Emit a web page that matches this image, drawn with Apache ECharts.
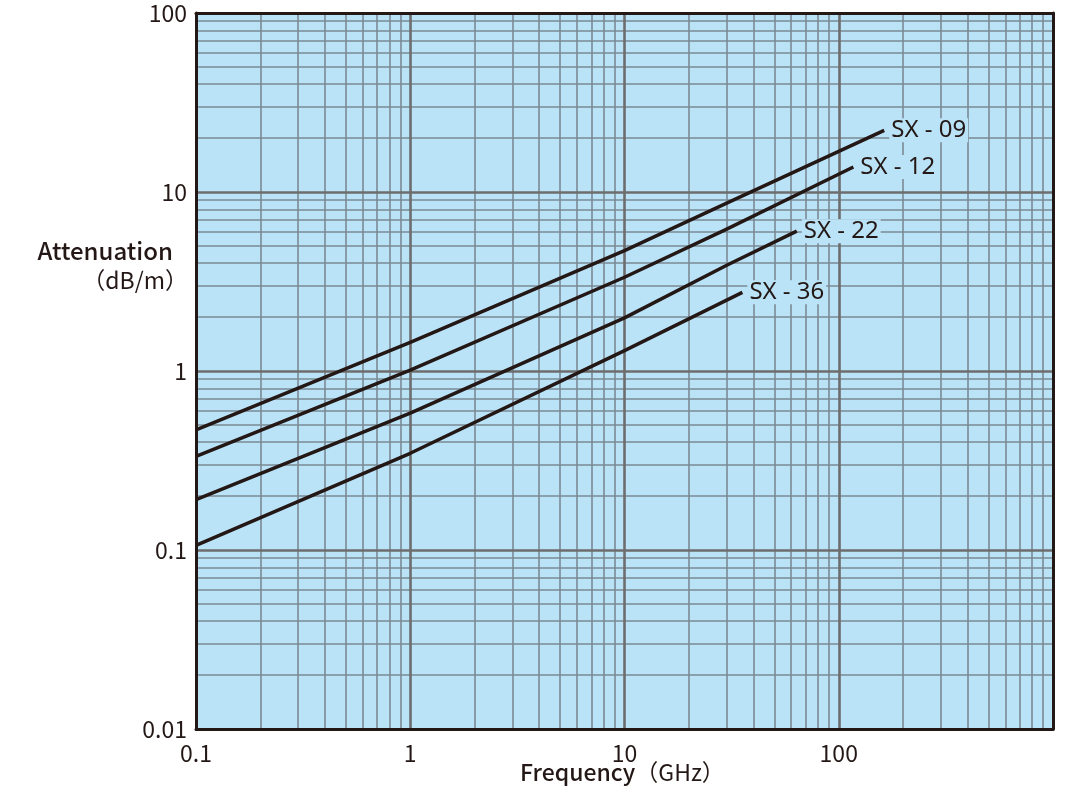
<!DOCTYPE html>
<html>
<head>
<meta charset="utf-8">
<script src="https://cdn.jsdelivr.net/npm/echarts@6/dist/echarts.min.js"></script>
<style>
html,body{margin:0;padding:0;background:#fff;}
#chart{width:1080px;height:800px;}
</style>
</head>
<body>
<div id="chart"></div>
<script>
// ---- data ----
const seriesNames = ['SX - 09', 'SX - 12', 'SX - 22', 'SX - 36'];
const sx09Freq = [0.1, 1, 10, 30, 163];
const sx09Att  = [0.469, 1.446, 4.70, 8.66, 22.1];
const sx12Freq = [0.1, 1, 10, 30, 117];
const sx12Att  = [0.333, 1.01, 3.34, 6.20, 13.8];
const sx22Freq = [0.1, 1, 10, 30, 63.7];
const sx22Att  = [0.191, 0.581, 1.98, 3.90, 6.04];
const sx36Freq = [0.1, 1, 10, 35.5];
const sx36Att  = [0.106, 0.347, 1.30, 2.75];
const xTickLabels = ['0.1', '1', '10', '100'];
const yTickLabels = ['0.01', '0.1', '1', '10', '100'];
const xDecades = [0.1, 1, 10, 100];
const yDecades = [0.01, 0.1, 1, 10];
const minorSteps = [2, 3, 4, 5, 6, 7, 8, 9];

const TEXT = '#231815';
const FONT = '"Noto Sans CJK JP", "Noto Sans", sans-serif';
const LFONT = '"Noto Sans", "Noto Sans CJK JP", sans-serif';
const BG = '#bbe3f7';

function pairs(xs, ys) { return xs.map((x, i) => [x, ys[i]]); }
const allFreq = [sx09Freq, sx12Freq, sx22Freq, sx36Freq];
const allAtt = [sx09Att, sx12Att, sx22Att, sx36Att];

const xMinor = [];
xDecades.forEach(d => minorSteps.forEach(k => xMinor.push({ xAxis: d * k })));
const yMinor = [];
yDecades.forEach(d => minorSteps.forEach(k => yMinor.push({ yAxis: d * k })));

function fmtLabel(list) {
  return function (v) {
    const s = String(+v.toPrecision(6));
    return list.indexOf(s) >= 0 ? s : '';
  };
}

const chart = echarts.init(document.getElementById('chart'), null, { renderer: 'canvas' });

const dataSeries = seriesNames.map((name, i) => ({
  name: name,
  type: 'line',
  z: 10,
  data: pairs(allFreq[i], allAtt[i]),
  showSymbol: false,
  symbol: 'none',
  lineStyle: { color: TEXT, width: 3.5, join: 'round' },
  endLabel: {
    show: true,
    formatter: '{a}',
    color: TEXT,
    fontSize: 24,
    fontFamily: LFONT,
    backgroundColor: BG,
    padding: [0, 2, 0, 2],
    distance: 5
  },
  animation: false
}));

const option = {
  animation: false,
  grid: {
    left: 196, right: 27, top: 13, bottom: 71,
    show: true,
    backgroundColor: BG,
    borderWidth: 0,
    containLabel: false,
    outerBoundsMode: 'none'
  },
  xAxis: [{
    type: 'log',
    logBase: 10,
    min: 0.1,
    max: 1000,
    z: 3,
    axisLine: { show: true, onZero: false, lineStyle: { color: TEXT, width: 3 } },
    axisTick: { show: false },
    axisLabel: {
      color: TEXT, fontSize: 23, fontFamily: FONT, margin: 13,
      formatter: fmtLabel(xTickLabels),
      showMaxLabel: true, showMinLabel: true
    },
    splitLine: { show: true, lineStyle: { color: '#6d6d6d', width: 2.6 } }
  }, {
    type: 'log',
    logBase: 10,
    min: 0.1,
    max: 1000,
    position: 'top',
    z: 3,
    axisLine: { show: true, onZero: false, lineStyle: { color: TEXT, width: 3 } },
    axisTick: { show: false },
    axisLabel: { show: false },
    splitLine: { show: false }
  }],
  yAxis: [{
    type: 'log',
    logBase: 10,
    min: 0.01,
    max: 100,
    z: 3,
    axisLine: { show: true, onZero: false, lineStyle: { color: TEXT, width: 3 } },
    axisTick: { show: false },
    axisLabel: {
      color: TEXT, fontSize: 23, fontFamily: FONT, margin: 9,
      formatter: fmtLabel(yTickLabels),
      showMaxLabel: true, showMinLabel: true
    },
    splitLine: { show: true, lineStyle: { color: '#6d6d6d', width: 2.6 } }
  }, {
    type: 'log',
    logBase: 10,
    min: 0.01,
    max: 100,
    position: 'right',
    z: 3,
    axisLine: { show: true, onZero: false, lineStyle: { color: TEXT, width: 3 } },
    axisTick: { show: false },
    axisLabel: { show: false },
    splitLine: { show: false }
  }],
  series: [{
    name: 'minorGrid',
    type: 'line',
    z: 1,
    data: [],
    symbol: 'none',
    silent: true,
    markLine: {
      z: 1,
      silent: true,
      symbol: ['none', 'none'],
      label: { show: false },
      lineStyle: { color: '#7b8a94', width: 1.6, type: 'solid' },
      emphasis: { disabled: true },
      animation: false,
      data: xMinor.concat(yMinor)
    }
  }].concat(dataSeries),
  graphic: [{
    type: 'text',
    right: 1080 - 173,
    top: 239,
    style: { text: 'Attenuation', fill: TEXT, fontSize: 24, fontWeight: 500, fontFamily: FONT }
  }, {
    type: 'text',
    right: 1080 - 188,
    top: 269,
    style: { text: '（dB/m）', fill: TEXT, fontSize: 23, fontFamily: FONT }
  }, {
    type: 'text',
    left: 520,
    top: 761,
    style: {
      text: '{a|Frequency}{b|（GHz）}',
      fill: TEXT,
      rich: {
        a: { fontSize: 23, fontWeight: 500, fontFamily: FONT, fill: TEXT, color: TEXT },
        b: { fontSize: 23, fontFamily: FONT, fill: TEXT, color: TEXT }
      }
    }
  }]
};

chart.setOption(option);
</script>
</body>
</html>
